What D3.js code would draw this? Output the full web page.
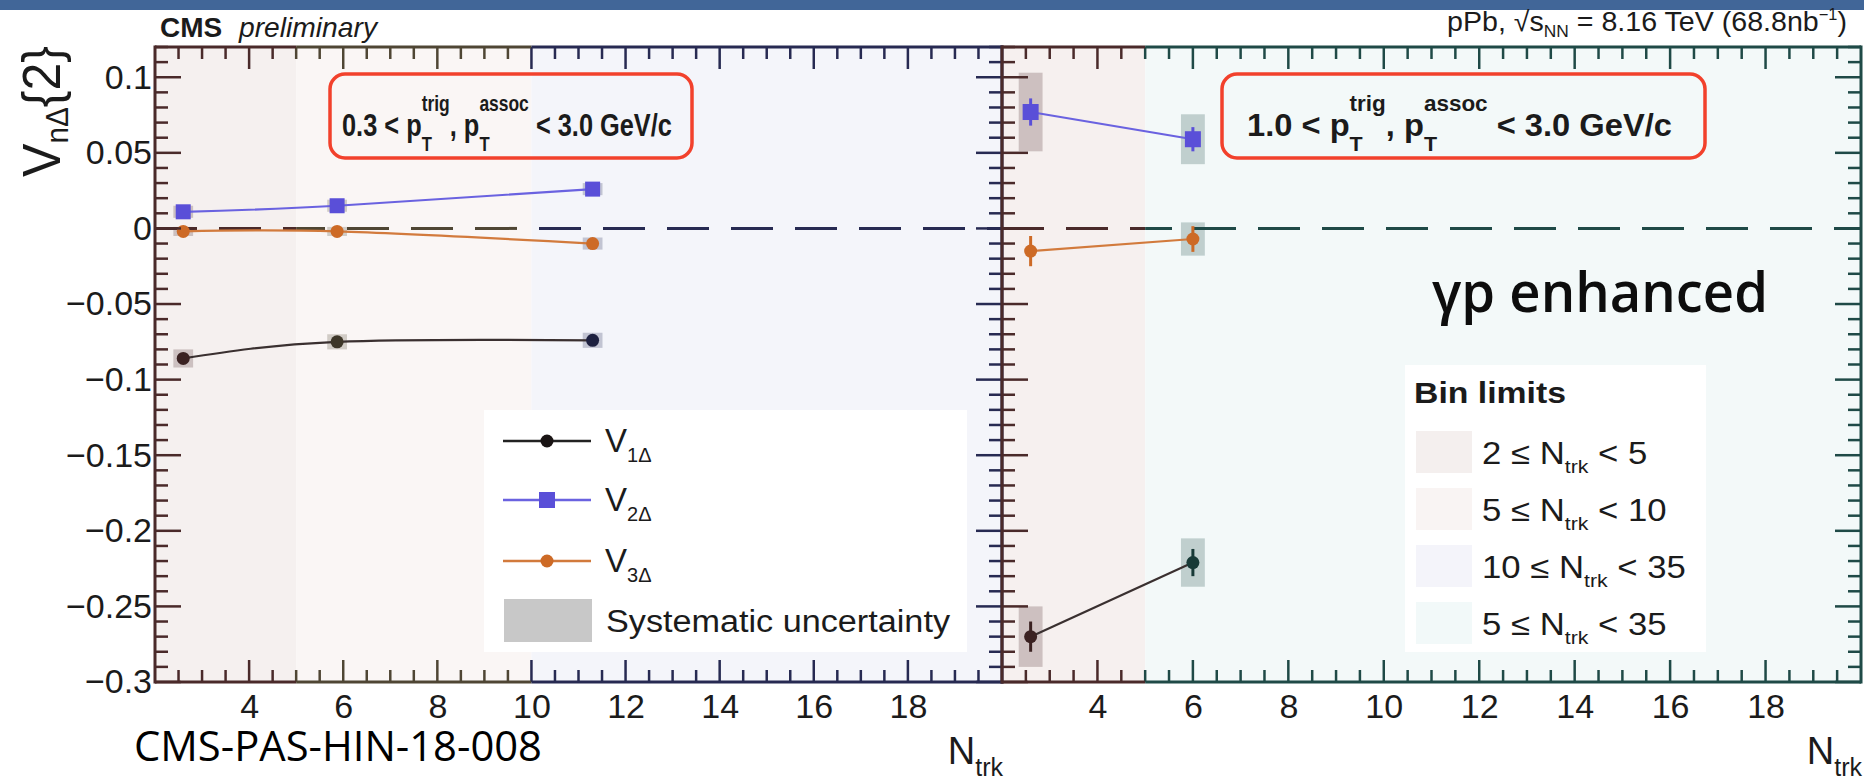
<!DOCTYPE html>
<html>
<head>
<meta charset="utf-8">
<script src="https://cdn.jsdelivr.net/npm/d3@7"></script>
<style>
html, body { margin: 0; padding: 0; background: #fff; }
svg { display: block; font-family: "Liberation Sans", Arial, Helvetica, sans-serif; }
</style>
</head>
<body>
<svg id="chart" width="1864" height="782"></svg>
<script>
// ---------- values ----------
// left panel: 0.3 < pT < 3.0 GeV/c, three multiplicity bins
const ntrkLow = [2.6, 5.87, 11.3];
const v1Low = [-0.086, -0.075, -0.074];
const v2Low = [0.011, 0.015, 0.026];
const v3Low = [-0.002, -0.002, -0.010];
const v1LowStat = [0.002, 0.002, 0.002];
const v2LowStat = [0.002, 0.002, 0.002];
const v3LowStat = [0.002, 0.002, 0.002];
const v1LowSys = [0.006, 0.005, 0.005];
const v2LowSys = [0.004, 0.004, 0.004];
const v3LowSys = [0.003, 0.003, 0.004];

// right panel: 1.0 < pT < 3.0 GeV/c, two multiplicity bins
const ntrkHigh = [2.6, 6.0];
const v1High = [-0.270, -0.221];
const v2High = [0.077, 0.059];
const v3High = [-0.015, -0.007];
const v1HighStat = [0.010, 0.009];
const v2HighStat = [0.009, 0.008];
const v3HighStat = [0.010, 0.0085];
const v1HighSys = [0.020, 0.016];
const v2HighSys = [0.026, 0.0165];
const v3HighSys = [0.0, 0.011];

// axes
const yDomain = [-0.3, 0.12];
const xDomain = [2, 20];
const yTickValues = [0.1, 0.05, 0, -0.05, -0.1, -0.15, -0.2, -0.25, -0.3];
const xTickValues = [4, 6, 8, 10, 12, 14, 16, 18];

// multiplicity bin boundaries shading each panel
const binEdgesLow = [2, 5, 10, 20];
const binEdgesHigh = [2, 5, 20];
const binLegendLow = [2, 5, 10, 5];
const binLegendHigh = [5, 10, 35, 35];
const seriesNames = ["1Δ", "2Δ", "3Δ"];

// ---------- drawing ----------
const svg = d3.select("#chart");
const SANS = '"Liberation Sans", Arial, Helvetica, sans-serif';
const ROUND = '"Open Sans", "Noto Sans", sans-serif';
const TXT = "#1b1b1b";

const y = d3.scaleLinear().domain(yDomain).range([682, 47]);

const seriesStyle = {
  v1: { line: "#3a3030", marker: null, shape: "circle" },
  v2: { line: "#6a62e0", marker: "#5a4fd8", shape: "square" },
  v3: { line: "#d27a3c", marker: "#cd6a26", shape: "circle" }
};

const panels = [
  {
    x: d3.scaleLinear().domain(xDomain).range([155, 1002]),
    edges: binEdgesLow,
    bg: ["#f5f0ef", "#faf6f5", "#f4f5fa"],
    ink: ["#4a2a2a", "#4f4634", "#272a52"],
    halfBox: 0.21, sq: 15, curve: d3.curveNatural, labels: true,
    xs: ntrkLow,
    series: [
      { key: "v1", v: v1Low, stat: v1LowStat, sys: v1LowSys },
      { key: "v3", v: v3Low, stat: v3LowStat, sys: v3LowSys },
      { key: "v2", v: v2Low, stat: v2LowStat, sys: v2LowSys }
    ]
  },
  {
    x: d3.scaleLinear().domain(xDomain).range([1002, 1861]),
    edges: binEdgesHigh,
    bg: ["#f6f0ef", "#f3f9f9"],
    ink: ["#4a2a2a", "#1f4a47"],
    halfBox: 0.25, sq: 16, curve: d3.curveLinear, labels: false,
    xs: ntrkHigh,
    series: [
      { key: "v1", v: v1High, stat: v1HighStat, sys: v1HighSys },
      { key: "v3", v: v3High, stat: v3HighStat, sys: v3HighSys },
      { key: "v2", v: v2High, stat: v2HighStat, sys: v2HighSys }
    ]
  }
];

function bandIndex(p, v) {
  for (let i = 0; i < p.edges.length - 2; i++) if (v < p.edges[i + 1]) return i;
  return p.edges.length - 2;
}

// text built from pieces (sub/superscripts); stacked pieces share an x start
function rich(parent, x, yPos, parts, o = {}) {
  const g = parent.append("g");
  const inner = g.append("g");
  let cx = 0, start = 0;
  for (const p of parts) {
    const t = inner.append("text")
      .attr("font-size", p.size)
      .attr("font-weight", p.bold || o.bold ? "bold" : null)
      .attr("font-style", p.italic ? "italic" : null)
      .attr("font-family", p.family || o.family || SANS)
      .attr("fill", p.fill || o.fill || TXT)
      .attr("y", p.dy || 0)
      .style("white-space", "pre")
      .text(p.t);
    const w = t.node().getComputedTextLength();
    if (p.stack) { t.attr("x", start); cx = Math.max(cx, start + w); }
    else { start = cx; t.attr("x", cx); cx += w; }
  }
  const sx = o.width ? o.width / cx : (o.sx || 1);
  const tw = cx * sx;
  const x0 = o.anchor === "end" ? x - tw : o.anchor === "middle" ? x - tw / 2 : x;
  g.attr("transform", `translate(${x0},${yPos})`);
  inner.attr("transform", `scale(${sx},1)`);
  return g;
}

// top title bar
svg.append("rect").attr("x", 0).attr("y", 0).attr("width", 1864).attr("height", 10).attr("fill", "#416698");

const yTop = y(yDomain[1]), yBot = y(yDomain[0]);

// background bands
panels.forEach(p => {
  svg.append("g").selectAll("rect").data(d3.pairs(p.edges)).join("rect")
    .attr("x", d => p.x(d[0]))
    .attr("width", d => p.x(d[1]) - p.x(d[0]))
    .attr("y", yTop).attr("height", yBot - yTop)
    .attr("fill", (d, i) => p.bg[i]);
});

// legend panels
svg.append("rect").attr("x", 484).attr("y", 410).attr("width", 483).attr("height", 242).attr("fill", "#fff");
svg.append("rect").attr("x", 1405).attr("y", 365).attr("width", 301).attr("height", 287).attr("fill", "#fff");

// dashed zero line, tinted by band
panels.forEach(p => {
  const px0 = p.x.range()[0];
  svg.append("g").selectAll("line").data(d3.pairs(p.edges)).join("line")
    .attr("x1", d => p.x(d[0])).attr("x2", d => p.x(d[1]))
    .attr("y1", y(0)).attr("y2", y(0))
    .attr("stroke", (d, i) => p.ink[i]).attr("stroke-width", 3)
    .attr("stroke-dasharray", "42,22")
    .attr("stroke-dashoffset", d => p.x(d[0]) - px0);
});

// data series
panels.forEach(p => {
  const g = svg.append("g");
  p.series.forEach(s => {
    const pts = p.xs.map((xv, i) => ({ x: xv, v: s.v[i], stat: s.stat[i], sys: s.sys[i] }));
    // systematic boxes
    g.append("g").selectAll("rect").data(pts.filter(d => d.sys > 0)).join("rect")
      .attr("x", d => p.x(d.x - p.halfBox))
      .attr("width", d => p.x(d.x + p.halfBox) - p.x(d.x - p.halfBox))
      .attr("y", d => y(d.v + d.sys))
      .attr("height", d => y(d.v - d.sys) - y(d.v + d.sys))
      .attr("fill", d => p.ink[bandIndex(p, d.x)])
      .attr("fill-opacity", 0.24);
  });
  p.series.forEach(s => {
    const st = seriesStyle[s.key];
    const pts = p.xs.map((xv, i) => ({ x: xv, v: s.v[i], stat: s.stat[i] }));
    const col = d => st.marker || d3.color(p.ink[bandIndex(p, d.x)]).darker(0.7).formatHex();
    g.append("path").datum(pts)
      .attr("d", d3.line().x(d => p.x(d.x)).y(d => y(d.v)).curve(p.curve))
      .attr("fill", "none").attr("stroke", st.line).attr("stroke-width", 2.2);
    g.append("g").selectAll("line").data(pts).join("line")
      .attr("x1", d => p.x(d.x)).attr("x2", d => p.x(d.x))
      .attr("y1", d => y(d.v + d.stat)).attr("y2", d => y(d.v - d.stat))
      .attr("stroke", col).attr("stroke-width", 3);
    if (st.shape === "square") {
      g.append("g").selectAll("rect").data(pts).join("rect")
        .attr("x", d => p.x(d.x) - p.sq / 2).attr("y", d => y(d.v) - p.sq / 2)
        .attr("width", p.sq).attr("height", p.sq).attr("fill", col);
    } else {
      g.append("g").selectAll("circle").data(pts).join("circle")
        .attr("cx", d => p.x(d.x)).attr("cy", d => y(d.v)).attr("r", 6.5).attr("fill", col);
    }
  });
});

// frames with ticks on all sides
panels.forEach(p => {
  const g = svg.append("g");
  const [x0, x1] = p.x.range();
  const last = p.ink.length - 1;
  const xt = d3.range(xDomain[0] + 0.5, xDomain[1], 0.5);
  const isMajX = v => Math.abs(v - Math.round(v / 2) * 2) < 1e-9;
  [[yTop, 1], [yBot, -1]].forEach(([yy, dir]) => {
    g.append("g").selectAll("line").data(xt).join("line")
      .attr("x1", d => p.x(d)).attr("x2", d => p.x(d))
      .attr("y1", yy).attr("y2", d => yy + dir * (isMajX(d) ? 22 : 12))
      .attr("stroke", d => p.ink[bandIndex(p, d)]).attr("stroke-width", 2.5);
    g.append("g").selectAll("line").data(d3.pairs(p.edges)).join("line")
      .attr("x1", d => p.x(d[0])).attr("x2", d => p.x(d[1]))
      .attr("y1", yy).attr("y2", yy)
      .attr("stroke", (d, i) => p.ink[i]).attr("stroke-width", 3);
  });
  const ytv = d3.range(-30, 13).map(i => ({ v: i / 100, major: i % 5 === 0 }));
  [[x1, -1, p.ink[last]], [x0, 1, p.ink[0]]].forEach(([xx, dir, c]) => {
    g.append("g").selectAll("line").data(ytv).join("line")
      .attr("x1", xx).attr("x2", d => xx + dir * (d.major ? 26 : 13))
      .attr("y1", d => y(d.v)).attr("y2", d => y(d.v))
      .attr("stroke", c).attr("stroke-width", 2.5);
    g.append("line").attr("x1", xx).attr("x2", xx).attr("y1", yTop - 1.5).attr("y2", yBot + 1.5)
      .attr("stroke", c).attr("stroke-width", 3);
  });

  // tick labels
  const xa = g.append("g").attr("transform", `translate(0,${yBot})`)
    .call(d3.axisBottom(p.x).tickValues(xTickValues).tickSize(0).tickPadding(12));
  xa.select(".domain").remove();
  xa.selectAll("text").attr("font-size", 34).attr("font-family", SANS).attr("fill", TXT);
  if (p.labels) {
    const ya = g.append("g").attr("transform", `translate(${x0},0)`)
      .call(d3.axisLeft(y).tickValues(yTickValues).tickSize(0).tickPadding(3).tickFormat(d3.format("~g")));
    ya.select(".domain").remove();
    ya.selectAll("text").attr("font-size", 34).attr("font-family", SANS).attr("fill", TXT);
  }
  // x title
  rich(svg, x1 + 1, 764, [{ t: "N", size: 38 }, { t: "trk", size: 25, dy: 12 }], { anchor: "end" });
});

// y title
const yTitle = svg.append("g").attr("transform", "rotate(-90)");
rich(yTitle, -46, 60, [
  { t: "V", size: 54 }, { t: "nΔ", size: 32, dy: 8 }, { t: "{2}", size: 54 }
], { anchor: "end", width: 131 });

// header texts
svg.append("text").attr("x", 160).attr("y", 37).attr("font-size", 28).attr("font-weight", "bold")
  .attr("fill", TXT).text("CMS");
svg.append("text").attr("x", 239).attr("y", 37).attr("font-size", 28).attr("font-style", "italic")
  .attr("fill", TXT).attr("textLength", 138).attr("lengthAdjust", "spacingAndGlyphs").text("preliminary");
rich(svg, 1847, 31, [
  { t: "pPb, √s", size: 28 }, { t: "NN", size: 17, dy: 6 }, { t: " = 8.16 TeV (68.8nb", size: 28 },
  { t: "−1", size: 16, dy: -11 }, { t: ")", size: 28 }
], { anchor: "end", width: 400 });

// kinematic selection boxes
const boxes = [
  { x: 330, w: 362, lo: "0.3", tw: 330 },
  { x: 1222, w: 483, lo: "1.0", tw: 425 }
];
boxes.forEach(b => {
  svg.append("rect").attr("x", b.x).attr("y", 74).attr("width", b.w).attr("height", 84)
    .attr("rx", 15).attr("fill", "none").attr("stroke", "#f2412c").attr("stroke-width", 3.5);
  rich(svg, b.x + b.w / 2 - 4, 136, [
    { t: `${b.lo} < p`, size: 32 }, { t: "trig", size: 22, dy: -25 }, { t: "T", size: 21, dy: 15, stack: true },
    { t: ", p", size: 32 }, { t: "assoc", size: 22, dy: -25 }, { t: "T", size: 21, dy: 15, stack: true },
    { t: " < 3.0 GeV/c", size: 32 }
  ], { anchor: "middle", width: b.tw, bold: true });
});

// series legend
const legLineY = [441, 500, 561];
const legG = svg.append("g");
["v1", "v2", "v3"].forEach((k, i) => {
  const st = seriesStyle[k];
  const c = st.marker || "#1a1414";
  legG.append("line").attr("x1", 503).attr("x2", 591).attr("y1", legLineY[i]).attr("y2", legLineY[i])
    .attr("stroke", k === "v1" ? "#222" : st.line).attr("stroke-width", 2.5);
  if (st.shape === "square") {
    legG.append("rect").attr("x", 547 - 8).attr("y", legLineY[i] - 8).attr("width", 16).attr("height", 16).attr("fill", c);
  } else {
    legG.append("circle").attr("cx", 547).attr("cy", legLineY[i]).attr("r", 6.5).attr("fill", c);
  }
  rich(legG, 605, legLineY[i] + 11, [{ t: "V", size: 33 }, { t: seriesNames[i], size: 20, dy: 10 }]);
});
legG.append("rect").attr("x", 504).attr("y", 599).attr("width", 88).attr("height", 43).attr("fill", "#c8c8c8");
legG.append("text").attr("x", 606).attr("y", 632).attr("font-size", 31).attr("fill", TXT)
  .attr("textLength", 344).attr("lengthAdjust", "spacingAndGlyphs").text("Systematic uncertainty");

// event class tag
svg.append("text").attr("x", 1432).attr("y", 312).attr("font-family", ROUND).attr("font-size", 56)
  .attr("font-weight", 600).attr("fill", "#0d0d0d")
  .attr("textLength", 336).attr("lengthAdjust", "spacingAndGlyphs").text("γp enhanced");

// bin limits legend
const binColors = ["#f4efee", "#f9f4f3", "#f4f4fa", "#f2f9f9"];
svg.append("text").attr("x", 1414).attr("y", 403).attr("font-size", 30).attr("font-weight", "bold")
  .attr("fill", TXT).attr("textLength", 152).attr("lengthAdjust", "spacingAndGlyphs").text("Bin limits");
binLegendLow.forEach((lo, i) => {
  const top = 431 + i * 57;
  svg.append("rect").attr("x", 1416).attr("y", top).attr("width", 56).attr("height", 42).attr("fill", binColors[i]);
  rich(svg, 1482, top + 33, [
    { t: `${lo} ≤ N`, size: 31 }, { t: "trk", size: 19, dy: 9 }, { t: ` < ${binLegendHigh[i]}`, size: 31 }
  ], { sx: 1.12 });
});

// document reference
svg.append("text").attr("x", 134).attr("y", 761).attr("font-family", ROUND).attr("font-size", 42)
  .attr("fill", "#000").attr("textLength", 408).attr("lengthAdjust", "spacingAndGlyphs").text("CMS-PAS-HIN-18-008");
</script>
</body>
</html>
